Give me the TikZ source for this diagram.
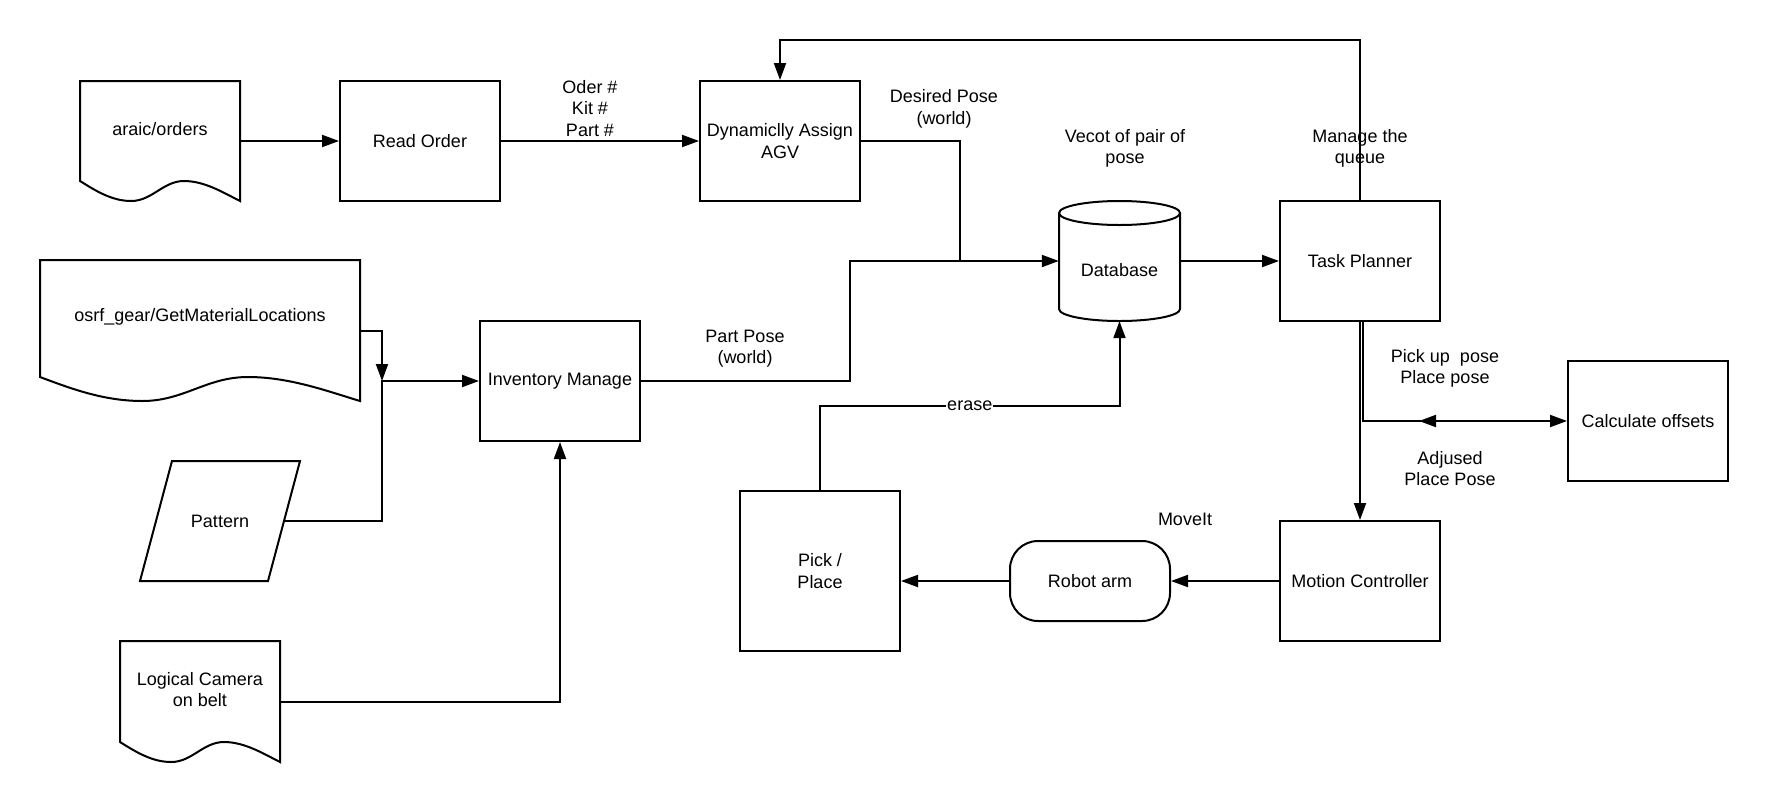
\documentclass[tikz,border=0pt]{standalone}
\usepackage{fontspec}
\setmainfont{Liberation Sans}
\usetikzlibrary{arrows.meta,decorations.markings}
\newcommand\diafont{\fontsize{18}{21.6}\selectfont}
% document outline: left, top, right, bottom (trough), wave amplitude
\newcommand\docoutline[5]{%
\draw[lw] (#3,#4) -- (#3,#2) -- (#1,#2) -- (#1,{#4-#5})
 .. controls ({#1+0.1*(#3-#1)},{#4-0.5*#5}) and ({#1+0.2*(#3-#1)},#4) .. ({#1+0.32*(#3-#1)},#4)
 .. controls ({#1+0.45*(#3-#1)},#4) and ({#1+0.52*(#3-#1)},{#4-#5}) .. ({#1+0.65*(#3-#1)},{#4-#5})
 .. controls ({#1+0.78*(#3-#1)},{#4-#5}) and ({#1+0.9*(#3-#1)},{#4-0.4*#5}) .. (#3,#4) -- cycle;}
\begin{document}
\begin{tikzpicture}[x=1pt,y=-1pt,
  every node/.style={font=\diafont},
  lw/.style={line width=2pt},
  box/.style={draw, line width=2pt, minimum width=160pt, minimum height=120pt, inner sep=0pt, align=center},
  ghost/.style={inner sep=0pt},
  lbl/.style={align=center, inner sep=1pt},
  arr/.style={line width=2pt, -{Triangle[length=17pt,width=12pt]}}]
\useasboundingbox (0,0) rectangle (1767,801);
\fill[white] (0,0) rectangle (1767,801);

% ---- boxes
\node[box] (readorder) at (420,141) {Read Order};
\node[box] (agv) at (780,141) {Dynamiclly Assign\\AGV};
\node[box] (tp) at (1360,261) {Task Planner};
\node[box] (inv) at (560,381) {Inventory Manage};
\node[box, minimum height=160pt] (pick) at (820,571) {Pick /\\Place};
\node[box] (mc) at (1360,581) {Motion Controller};
\node[box] (calc) at (1648,421) {Calculate offsets};
\node[box, rounded corners=28pt, minimum height=80pt] (robot) at (1090,581) {Robot arm};

% ---- documents
\node[ghost, minimum width=160pt, minimum height=120pt] (orders) at (160,141) {};
\docoutline{80}{81}{240}{201}{20}
\node at (160,129) {araic/orders};

\node[ghost, minimum width=320pt, minimum height=141pt] (osrf) at (200,330.5) {};
\docoutline{40}{260}{360}{401}{24}
\node at (200,317) {osrf\_gear/GetMaterialLocations};

\node[ghost, minimum width=160pt, minimum height=121pt] (cam) at (200,701.5) {};
\docoutline{120}{641}{280}{762}{20}
\node[align=center] at (200,689.5) {Logical Camera\\on belt};

% ---- pattern (parallelogram)
\node[ghost, minimum width=160pt, minimum height=120pt] (pattern) at (220,521) {Pattern};
\draw[lw] (172,461) -- (300,461) -- (268,581) -- (140,581) -- cycle;

% ---- database
\node[ghost, minimum width=121pt, minimum height=120pt] (db) at (1119.5,261) {};
\draw[lw] (1119.5,213) ellipse [x radius=60.5pt, y radius=12pt];
\draw[lw] (1059,213) -- (1059,309) arc[start angle=180, end angle=360, x radius=60.5pt, y radius=12pt] -- (1180,213);
\node at (1119.5,270) {Database};

% ---- connectors
\draw[arr] (orders.east) -- (readorder.west);
\draw[arr] (readorder.east) -- (agv.west);
\coordinate (dj) at (960,261);
\draw[lw] (agv.east) -| (dj);
\coordinate (ij) at (850,261);
\draw[arr] (inv.east) -| (ij) -- (db.west);
\draw[arr] (db.east) -- (tp.west);
\coordinate (fb) at (780,40);
\draw[arr] (tp.north) |- (fb) -- (agv.north);

\coordinate (oj) at (382,381);
\draw[arr] (osrf.east) -| (oj);
\draw[arr] ([xshift=-16pt]pattern.east) -| (oj) -- (inv.west);
\draw[arr] (cam.east) -| (inv.south);

\draw[arr] (tp.south) -- (mc.north);
\draw[arr, postaction={decorate}, decoration={markings,
  mark=at position 155.5pt with {\arrowreversed{Triangle[length=17pt,width=12pt]}}}]
  ([xshift=2.5pt]tp.south) |- (calc.west);

\draw[arr] (mc.west) -- (robot.east);
\draw[arr] (robot.west) -- (robot.west -| pick.east);
\coordinate (eb) at (820,406);
\draw[arr] (pick.north) -- (eb) -| node[lbl, fill=white, pos=0.25] {erase} (db.south);

% ---- labels
\node[lbl] at (590,108.5) {Oder \#\\Kit \#\\Part \#};
\node[lbl] at (944,109) {Desired Pose\\(world)};
\node[lbl] at (745,348.5) {Part Pose\\(world)};
\node[lbl] at (1125,148.5) {Vecot of pair of\\pose};
\node[lbl] at (1360,148.5) {Manage the\\queue};
\node[lbl] at (1445,368.5) {Pick up\ \ pose\\Place pose};
\node[lbl] at (1450,468.5) {Adjused\\Place Pose};
\node[lbl] at (1185,519) {MoveIt};
\end{tikzpicture}
\end{document}
